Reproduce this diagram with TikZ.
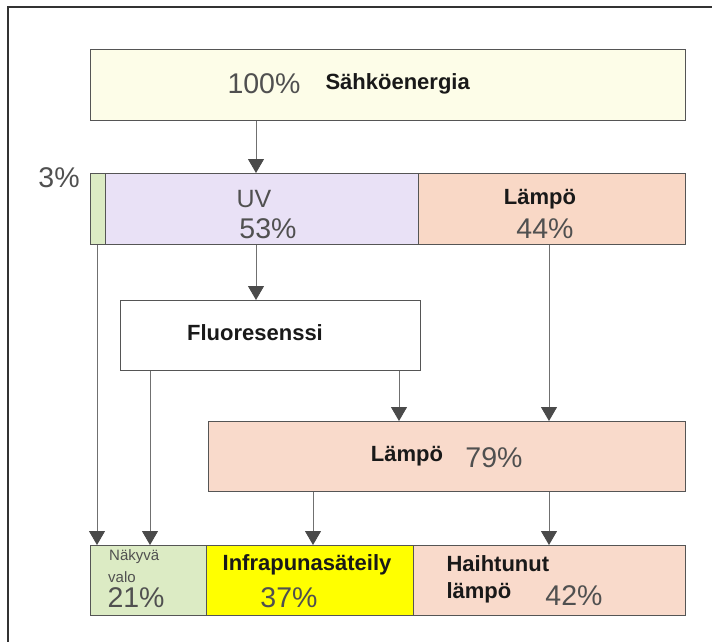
\documentclass[tikz,border=0pt]{standalone}
\usepackage{fontspec}
\setmainfont{Liberation Sans}
\usetikzlibrary{arrows.meta}
\definecolor{edge}{HTML}{555555}
\definecolor{linegray}{HTML}{707070}
\definecolor{tipgray}{HTML}{4A4A4A}
\definecolor{pctgray}{HTML}{505050}
\definecolor{cream}{HTML}{FDFDE8}
\definecolor{lavender}{HTML}{E9E1F6}
\definecolor{salmon}{HTML}{F9D8C6}
\definecolor{paleorange}{HTML}{F9DACB}
\definecolor{palegreen}{HTML}{DCEBC4}
\definecolor{brightyellow}{HTML}{FFFF00}
\begin{document}
\begin{tikzpicture}[x=1pt, y=-1pt]
\tikzstyle{box}=[draw=edge, line width=1pt, inner sep=0pt, anchor=north west];
\tikzstyle{pct}=[text=pctgray, font=\fontsize{28.5}{30}\selectfont];
\tikzstyle{lbl}=[text=black!90, font=\bfseries\fontsize{22}{25}\selectfont];
\tikzstyle{small}=[text=pctgray, inner sep=1pt, font=\fontsize{15}{16}\selectfont];
\tikzstyle{arr}=[draw=linegray, line width=0.9pt, -{Triangle[width=16pt, length=14pt, color=tipgray]}];
\useasboundingbox (0,0) rectangle (712,641);
\begin{scope}
\clip (0,0) rectangle (712,641);
\draw[line width=2pt, black!80] (8,7) rectangle (730,660);
\end{scope}
% boxes
\node[box, fill=cream, minimum width=595pt, minimum height=71pt] (sahko) at (90,49) {};
\node[box, fill=palegreen, minimum width=15pt, minimum height=71pt] (vis3) at (90,173) {};
\node[box, fill=lavender, minimum width=313pt, minimum height=71pt] (uv) at (105,173) {};
\node[box, fill=salmon, minimum width=267pt, minimum height=71pt] (lampo1) at (418,173) {};
\node[box, fill=white, minimum width=300pt, minimum height=70pt] (fluo) at (120,300) {};
\node[box, fill=paleorange, minimum width=477pt, minimum height=70pt] (lampo2) at (208,421) {};
\node[box, fill=palegreen, minimum width=116pt, minimum height=70pt] (vis) at (90,545) {};
\node[box, fill=brightyellow, minimum width=207pt, minimum height=70pt] (ir) at (206,545) {};
\node[box, fill=paleorange, minimum width=272pt, minimum height=70pt] (haih) at (413,545) {};
% texts
\node[pct] (p100) at (264,84) {100\%};
\node[lbl, anchor=west] (tsahko) at (322,84) {Sähköenergia};
\node[pct] (p3) at (59,178) {3\%};
\node[pct, font=\fontsize{25}{28}\selectfont] (tuv) at (254,199) {UV};
\node[pct] (p53) at (268,229) {53\%};
\node[lbl] (tlampo1) at (540,199) {Lämpö};
\node[pct] (p44) at (545,229) {44\%};
\node[lbl] (tfluo) at (255,333) {Fluoresenssi};
\node[lbl] (tlampo2) at (407,456) {Lämpö};
\node[pct] (p79) at (494,458) {79\%};
\node[small, anchor=west] (tnak) at (108,557) {Näkyvä};
\node[small, anchor=west] (tvalo) at (107,577) {valo};
\node[pct, anchor=west] (p21) at (104,598) {21\%};
\node[lbl] (tir) at (307,565) {Infrapunasäteily};
\node[pct] (p37) at (289,598) {37\%};
\node[lbl, anchor=west] (thaih) at (443,564) {Haihtunut};
\node[lbl, anchor=west] (tlam) at (443,593) {lämpö};
\node[pct] (p42) at (574,596) {42\%};
% arrow columns
\coordinate (c1) at (97,0);
\coordinate (c2) at (150,0);
\coordinate (c3) at (256,0);
\coordinate (c4) at (313,0);
\coordinate (c5) at (399,0);
\coordinate (c6) at (549,0);
\draw[arr] (c3 |- sahko.south) -- (c3 |- uv.north);
\draw[arr] (c1 |- vis3.south) -- (c1 |- vis.north);
\draw[arr] (c3 |- uv.south) -- (c3 |- fluo.north);
\draw[arr] (c6 |- lampo1.south) -- (c6 |- lampo2.north);
\draw[arr] (c2 |- fluo.south) -- (c2 |- vis.north);
\draw[arr] (c5 |- fluo.south) -- (c5 |- lampo2.north);
\draw[arr] (c4 |- lampo2.south) -- (c4 |- ir.north);
\draw[arr] (c6 |- lampo2.south) -- (c6 |- haih.north);
\end{tikzpicture}
\end{document}
